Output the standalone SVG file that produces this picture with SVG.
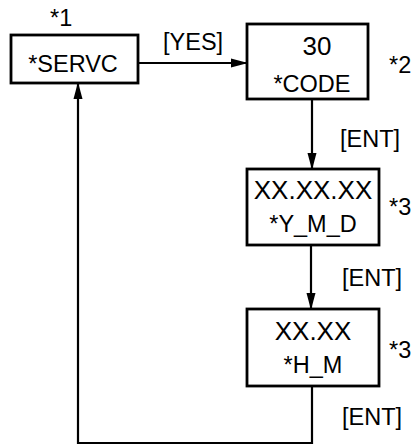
<svg xmlns="http://www.w3.org/2000/svg" width="414" height="444" viewBox="0 0 414 444">
<defs>
<marker id="ah" markerWidth="17" markerHeight="10" refX="16" refY="5" orient="auto" markerUnits="userSpaceOnUse">
<path d="M0,0.5 L17,5 L0,9.5 Z" fill="#000"/>
</marker>
<style>
.box{fill:#fff;stroke:#000;stroke-width:2.8}
.ln{fill:none;stroke:#000;stroke-width:2.2}
text{font-family:"Liberation Sans",Arial,sans-serif;fill:#000}
.lb{font-size:23.5px}
.vl{font-size:26px}
.m{text-anchor:middle}
</style>
</defs>
<rect width="414" height="444" fill="#fff"/>
<g id="connectors">
<line class="ln" x1="138" y1="63" x2="247" y2="63" marker-end="url(#ah)"/>
<line class="ln" x1="312" y1="99" x2="312" y2="169" marker-end="url(#ah)"/>
<line class="ln" x1="311" y1="245" x2="311" y2="309" marker-end="url(#ah)"/>
<polyline class="ln" points="312,386 312,443 78,443 78,83" marker-end="url(#ah)"/>
<text class="lb" x="163" y="50">[YES]</text>
<text class="lb" x="340" y="147">[ENT]</text>
<text class="lb" x="342" y="286">[ENT]</text>
<text class="lb" x="342" y="425">[ENT]</text>
</g>
<g id="servc">
<rect class="box" x="11" y="35" width="127" height="48"/>
<text class="lb m" x="73" y="72">*SERVC</text>
<text class="lb" x="50" y="26">*1</text>
</g>
<g id="code">
<rect class="box" x="247" y="24" width="121" height="75"/>
<text class="vl m" x="317" y="55">30</text>
<text class="lb m" x="312" y="92">*CODE</text>
<text class="lb" x="389" y="73">*2</text>
</g>
<g id="ymd">
<rect class="box" x="247" y="169" width="132" height="76"/>
<text class="vl m" x="313" y="199">XX.XX.XX</text>
<text class="lb m" x="313" y="232">*Y_M_D</text>
<text class="lb" x="389" y="215">*3</text>
</g>
<g id="hm">
<rect class="box" x="247" y="309" width="132" height="77"/>
<text class="vl m" x="313" y="340">XX.XX</text>
<text class="lb m" x="313" y="373">*H_M</text>
<text class="lb" x="389" y="358">*3</text>
</g>
</svg>
